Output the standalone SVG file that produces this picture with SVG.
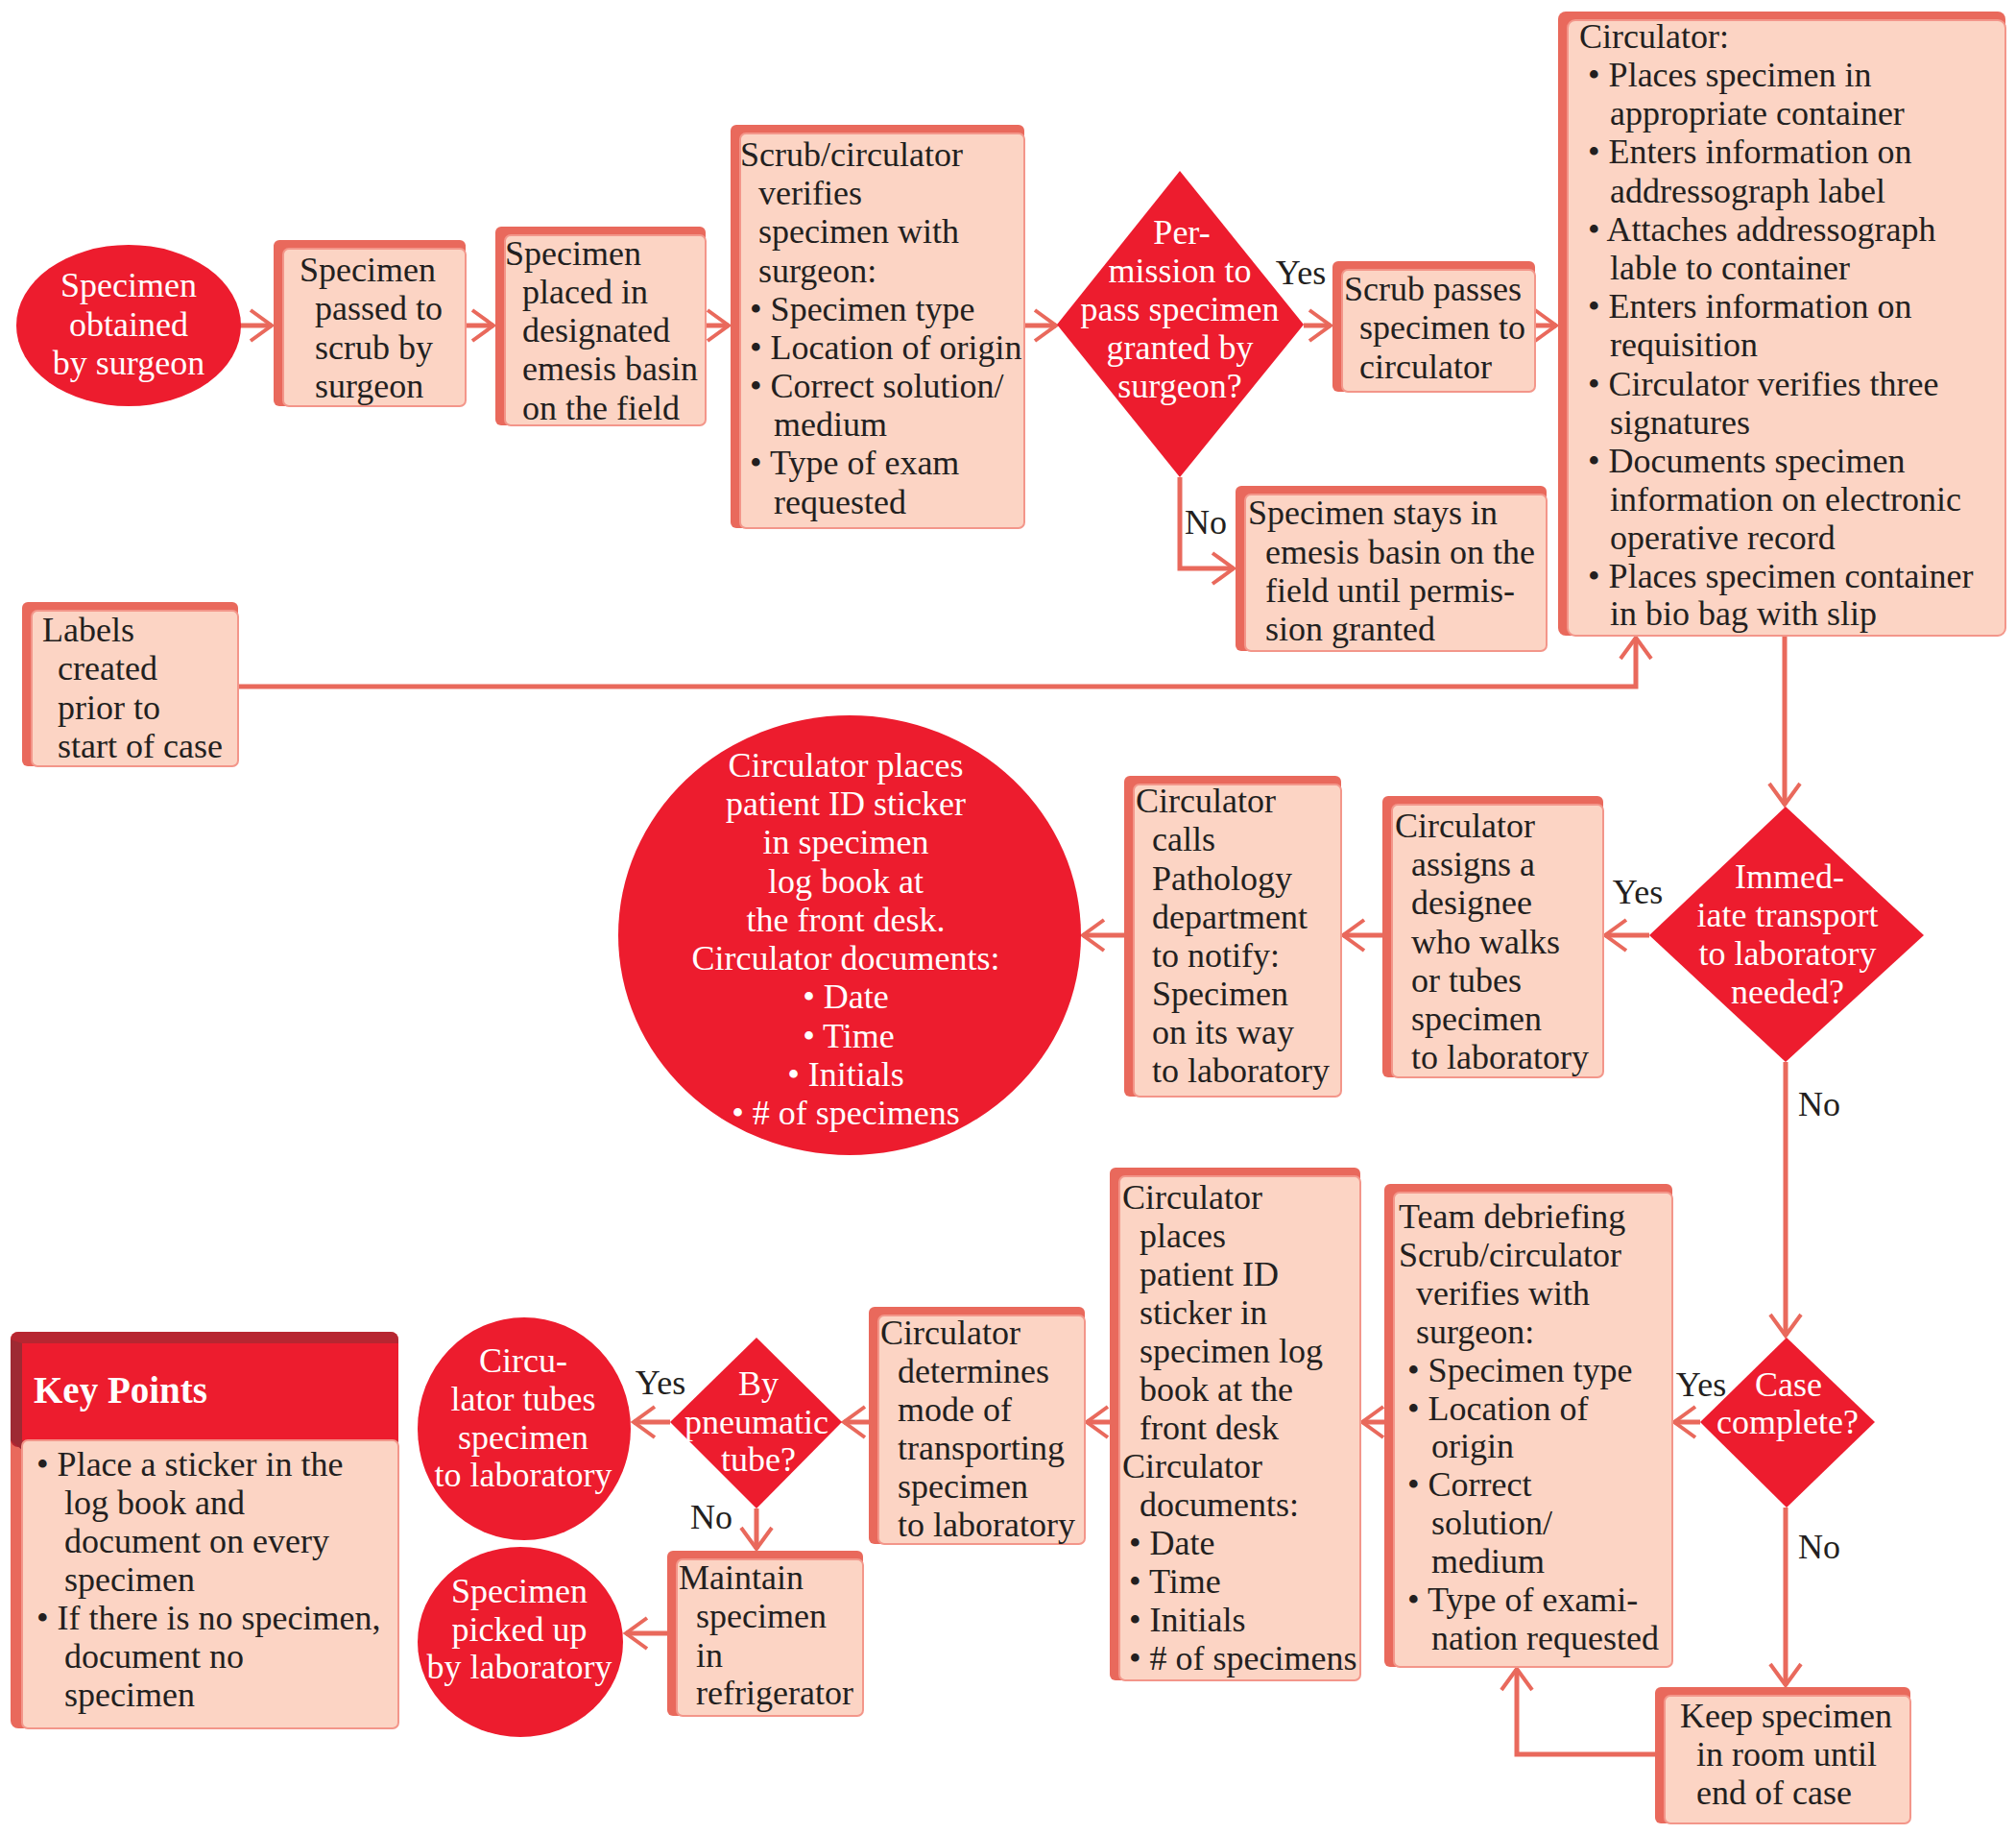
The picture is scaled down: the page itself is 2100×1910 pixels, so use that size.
<svg xmlns="http://www.w3.org/2000/svg" width="2100" height="1910" viewBox="0 0 2100 1910">
<style>
.t{font-family:"Liberation Serif","DejaVu Serif",serif;font-size:36px;fill:#231F20}
.w{fill:#FFFFFF}
.c{text-anchor:middle}
.back{fill:#E9695C}
.face{fill:#FCD4C4;stroke:#F3968A;stroke-width:2}
.red{fill:#ED1C2E}
.conn{stroke:#E9695C;stroke-width:5;fill:none}
</style>
<defs>
<marker id="ah" markerUnits="userSpaceOnUse" markerWidth="40" markerHeight="40" viewBox="-26 -20 30 40" refX="0" refY="0" orient="auto">
<path d="M-22,-16 L0,0 L-22,16" fill="none" stroke="#E9695C" stroke-width="4"/>
</marker>
</defs>
<rect width="2100" height="1910" fill="#FFFFFF"/>

<g id="connectors">
<path class="conn" d="M250,339 H283" marker-end="url(#ah)"/>
<path class="conn" d="M485,339 H514" marker-end="url(#ah)"/>
<path class="conn" d="M735,339 H759" marker-end="url(#ah)"/>
<path class="conn" d="M1067,339 H1100" marker-end="url(#ah)"/>
<path class="conn" d="M1358,339 H1386" marker-end="url(#ah)"/>
<path class="conn" d="M1599,339 H1621" marker-end="url(#ah)"/>
<path class="conn" d="M1229,497 V592 H1285" marker-end="url(#ah)"/>
<path class="conn" d="M248,715 H1704 V664" marker-end="url(#ah)"/>
<path class="conn" d="M1859,662 V838" marker-end="url(#ah)"/>
<path class="conn" d="M1718,974 H1672" marker-end="url(#ah)"/>
<path class="conn" d="M1440,974 H1399" marker-end="url(#ah)"/>
<path class="conn" d="M1171,974 H1128" marker-end="url(#ah)"/>
<path class="conn" d="M1860,1106 V1391" marker-end="url(#ah)"/>
<path class="conn" d="M1771,1481 H1744" marker-end="url(#ah)"/>
<path class="conn" d="M1442,1481 H1419" marker-end="url(#ah)"/>
<path class="conn" d="M1156,1481 H1132" marker-end="url(#ah)"/>
<path class="conn" d="M905,1481 H879" marker-end="url(#ah)"/>
<path class="conn" d="M698,1481 H660" marker-end="url(#ah)"/>
<path class="conn" d="M788,1571 V1613" marker-end="url(#ah)"/>
<path class="conn" d="M695,1701 H652" marker-end="url(#ah)"/>
<path class="conn" d="M1860,1570 V1755" marker-end="url(#ah)"/>
<path class="conn" d="M1724,1827 H1580 V1738" marker-end="url(#ah)"/>
</g>

<g id="n1">
<ellipse class="red" cx="134" cy="339" rx="117" ry="84"/>
<text class="t w c" x="134" y="309">Specimen</text>
<text class="t w c" x="134" y="350">obtained</text>
<text class="t w c" x="134" y="390">by surgeon</text>
</g>

<g id="n2">
<rect class="back" x="285" y="250" width="200" height="173" rx="6"/>
<rect class="face" x="295" y="259" width="190" height="164" rx="6"/>
<text class="t" x="312" y="293">Specimen</text>
<text class="t" x="328" y="333">passed to</text>
<text class="t" x="328" y="374">scrub by</text>
<text class="t" x="328" y="414">surgeon</text>
</g>

<g id="n3">
<rect class="back" x="516" y="236" width="219" height="207" rx="6"/>
<rect class="face" x="526" y="245" width="209" height="198" rx="6"/>
<text class="t" x="526" y="276">Specimen</text>
<text class="t" x="544" y="316">placed in</text>
<text class="t" x="544" y="356">designated</text>
<text class="t" x="544" y="396">emesis basin</text>
<text class="t" x="544" y="437">on the field</text>
</g>

<g id="n4">
<rect class="back" x="761" y="130" width="306" height="420" rx="6"/>
<rect class="face" x="771" y="139" width="296" height="411" rx="6"/>
<text class="t" x="771" y="173">Scrub/circulator</text>
<text class="t" x="790" y="213">verifies</text>
<text class="t" x="790" y="253">specimen with</text>
<text class="t" x="790" y="294">surgeon:</text>
<text class="t" x="781" y="334">• Specimen type</text>
<text class="t" x="781" y="374">• Location of origin</text>
<text class="t" x="781" y="414">• Correct solution/</text>
<text class="t" x="806" y="454">medium</text>
<text class="t" x="781" y="494">• Type of exam</text>
<text class="t" x="806" y="535">requested</text>
</g>

<g id="n5">
<polygon class="red" points="1229,178 1358,338 1229,497 1101,338"/>
<text class="t w c" x="1231" y="254">Per-</text>
<text class="t w c" x="1229" y="294">mission to</text>
<text class="t w c" x="1229" y="334">pass specimen</text>
<text class="t w c" x="1229" y="374">granted by</text>
<text class="t w c" x="1229" y="414">surgeon?</text>
</g>
<text class="t c" x="1355" y="296">Yes</text>
<text class="t c" x="1256" y="556">No</text>

<g id="n6">
<rect class="back" x="1388" y="272" width="211" height="136" rx="6"/>
<rect class="face" x="1398" y="281" width="201" height="127" rx="6"/>
<text class="t" x="1400" y="313">Scrub passes</text>
<text class="t" x="1416" y="353">specimen to</text>
<text class="t" x="1416" y="394">circulator</text>
</g>

<g id="n7">
<rect class="back" x="1287" y="506" width="324" height="172" rx="6"/>
<rect class="face" x="1297" y="515" width="314" height="163" rx="6"/>
<text class="t" x="1300" y="546">Specimen stays in</text>
<text class="t" x="1318" y="587">emesis basin on the</text>
<text class="t" x="1318" y="627">field until permis-</text>
<text class="t" x="1318" y="667">sion granted</text>
</g>

<g id="n8">
<rect class="back" x="1623" y="12" width="466" height="650" rx="8"/>
<rect class="face" x="1633" y="21" width="456" height="641" rx="8"/>
<text class="t" x="1645" y="50">Circulator:</text>
<text class="t" x="1654" y="90">• Places specimen in</text>
<text class="t" x="1677" y="130">appropriate container</text>
<text class="t" x="1654" y="170">• Enters information on</text>
<text class="t" x="1677" y="211">addressograph label</text>
<text class="t" x="1654" y="251">• Attaches addressograph</text>
<text class="t" x="1677" y="291">lable to container</text>
<text class="t" x="1654" y="331">• Enters information on</text>
<text class="t" x="1677" y="371">requisition</text>
<text class="t" x="1654" y="412">• Circulator verifies three</text>
<text class="t" x="1677" y="452">signatures</text>
<text class="t" x="1654" y="492">• Documents specimen</text>
<text class="t" x="1677" y="532">information on electronic</text>
<text class="t" x="1677" y="572">operative record</text>
<text class="t" x="1654" y="612">• Places specimen container</text>
<text class="t" x="1677" y="651">in bio bag with slip</text>
</g>

<g id="n9">
<rect class="back" x="23" y="627" width="225" height="171" rx="6"/>
<rect class="face" x="33" y="636" width="215" height="162" rx="6"/>
<text class="t" x="44" y="668">Labels</text>
<text class="t" x="60" y="708">created</text>
<text class="t" x="60" y="749">prior to</text>
<text class="t" x="60" y="789">start of case</text>
</g>

<g id="n11">
<polygon class="red" points="1860,840 2004,974 1860,1106 1718,974"/>
<text class="t w c" x="1864" y="925">Immed-</text>
<text class="t w c" x="1862" y="965">iate transport</text>
<text class="t w c" x="1862" y="1005">to laboratory</text>
<text class="t w c" x="1862" y="1045">needed?</text>
</g>
<text class="t c" x="1706" y="941">Yes</text>
<text class="t c" x="1895" y="1162">No</text>

<g id="n12">
<rect class="back" x="1440" y="829" width="230" height="293" rx="6"/>
<rect class="face" x="1450" y="838" width="220" height="284" rx="6"/>
<text class="t" x="1453" y="872">Circulator</text>
<text class="t" x="1470" y="912">assigns a</text>
<text class="t" x="1470" y="952">designee</text>
<text class="t" x="1470" y="993">who walks</text>
<text class="t" x="1470" y="1033">or tubes</text>
<text class="t" x="1470" y="1073">specimen</text>
<text class="t" x="1470" y="1113">to laboratory</text>
</g>

<g id="n13">
<rect class="back" x="1171" y="808" width="226" height="334" rx="6"/>
<rect class="face" x="1181" y="817" width="216" height="325" rx="6"/>
<text class="t" x="1183" y="846">Circulator</text>
<text class="t" x="1200" y="886">calls</text>
<text class="t" x="1200" y="927">Pathology</text>
<text class="t" x="1200" y="967">department</text>
<text class="t" x="1200" y="1007">to notify:</text>
<text class="t" x="1200" y="1047">Specimen</text>
<text class="t" x="1200" y="1087">on its way</text>
<text class="t" x="1200" y="1127">to laboratory</text>
</g>

<g id="n14">
<ellipse class="red" cx="885" cy="974" rx="241" ry="229"/>
<text class="t w c" x="881" y="809">Circulator places</text>
<text class="t w c" x="881" y="849">patient ID sticker</text>
<text class="t w c" x="881" y="889">in specimen</text>
<text class="t w c" x="881" y="930">log book at</text>
<text class="t w c" x="881" y="970">the front desk.</text>
<text class="t w c" x="881" y="1010">Circulator documents:</text>
<text class="t w c" x="881" y="1050">• Date</text>
<text class="t w c" x="884" y="1091">• Time</text>
<text class="t w c" x="881" y="1131">• Initials</text>
<text class="t w c" x="881" y="1171">• # of specimens</text>
</g>

<g id="n15">
<polygon class="red" points="1861,1393 1953,1481 1861,1570 1771,1481"/>
<text class="t w c" x="1863" y="1454">Case</text>
<text class="t w c" x="1862" y="1493">complete?</text>
</g>
<text class="t c" x="1772" y="1454">Yes</text>
<text class="t c" x="1895" y="1623">No</text>

<g id="n16">
<rect class="back" x="1724" y="1757" width="266" height="142" rx="6"/>
<rect class="face" x="1734" y="1766" width="256" height="133" rx="6"/>
<text class="t" x="1750" y="1799">Keep specimen</text>
<text class="t" x="1767" y="1839">in room until</text>
<text class="t" x="1767" y="1879">end of case</text>
</g>

<g id="n17">
<rect class="back" x="1442" y="1233" width="300" height="503" rx="6"/>
<rect class="face" x="1452" y="1242" width="290" height="494" rx="6"/>
<text class="t" x="1457" y="1279">Team debriefing</text>
<text class="t" x="1457" y="1319">Scrub/circulator</text>
<text class="t" x="1475" y="1359">verifies with</text>
<text class="t" x="1475" y="1399">surgeon:</text>
<text class="t" x="1466" y="1439">• Specimen type</text>
<text class="t" x="1466" y="1479">• Location of</text>
<text class="t" x="1491" y="1518">origin</text>
<text class="t" x="1466" y="1558">• Correct</text>
<text class="t" x="1491" y="1598">solution/</text>
<text class="t" x="1491" y="1638">medium</text>
<text class="t" x="1466" y="1678">• Type of exami-</text>
<text class="t" x="1491" y="1718">nation requested</text>
</g>

<g id="n18">
<rect class="back" x="1156" y="1216" width="261" height="534" rx="6"/>
<rect class="face" x="1166" y="1225" width="251" height="525" rx="6"/>
<text class="t" x="1169" y="1259">Circulator</text>
<text class="t" x="1187" y="1299">places</text>
<text class="t" x="1187" y="1339">patient ID</text>
<text class="t" x="1187" y="1379">sticker in</text>
<text class="t" x="1187" y="1419">specimen log</text>
<text class="t" x="1187" y="1459">book at the</text>
<text class="t" x="1187" y="1499">front desk</text>
<text class="t" x="1169" y="1539">Circulator</text>
<text class="t" x="1187" y="1579">documents:</text>
<text class="t" x="1176" y="1619">• Date</text>
<text class="t" x="1176" y="1659">• Time</text>
<text class="t" x="1176" y="1699">• Initials</text>
<text class="t" x="1176" y="1739">• # of specimens</text>
</g>

<g id="n19">
<rect class="back" x="905" y="1361" width="225" height="247" rx="6"/>
<rect class="face" x="915" y="1370" width="215" height="238" rx="6"/>
<text class="t" x="917" y="1400">Circulator</text>
<text class="t" x="935" y="1440">determines</text>
<text class="t" x="935" y="1480">mode of</text>
<text class="t" x="935" y="1520">transporting</text>
<text class="t" x="935" y="1560">specimen</text>
<text class="t" x="935" y="1600">to laboratory</text>
</g>

<g id="n20">
<polygon class="red" points="788,1393 877,1481 788,1571 698,1481"/>
<text class="t w c" x="790" y="1453">By</text>
<text class="t w c" x="788" y="1493">pneumatic</text>
<text class="t w c" x="790" y="1532">tube?</text>
</g>
<text class="t c" x="688" y="1452">Yes</text>
<text class="t c" x="741" y="1592">No</text>

<g id="n21">
<ellipse class="red" cx="546" cy="1488" rx="111" ry="116"/>
<text class="t w c" x="545" y="1429">Circu-</text>
<text class="t w c" x="545" y="1469">lator tubes</text>
<text class="t w c" x="545" y="1509">specimen</text>
<text class="t w c" x="545" y="1548">to laboratory</text>
</g>

<g id="n22">
<rect class="back" x="695" y="1615" width="204" height="172" rx="6"/>
<rect class="face" x="705" y="1624" width="194" height="163" rx="6"/>
<text class="t" x="707" y="1655">Maintain</text>
<text class="t" x="725" y="1695">specimen</text>
<text class="t" x="725" y="1736">in</text>
<text class="t" x="725" y="1775">refrigerator</text>
</g>

<g id="n23">
<ellipse class="red" cx="542" cy="1710" rx="107" ry="99"/>
<text class="t w c" x="541" y="1669">Specimen</text>
<text class="t w c" x="541" y="1709">picked up</text>
<text class="t w c" x="541" y="1748">by laboratory</text>
</g>

<g id="n24">
<rect x="11" y="1387" width="404" height="413" rx="8" fill="#E9695C"/>
<rect x="11" y="1387" width="404" height="120" rx="8" fill="#B72631"/>
<polygon points="11,1395 23,1399 23,1510 11,1500" fill="#9E2A33"/>
<rect x="23" y="1399" width="392" height="101" fill="#ED1C2E"/>
<rect x="23" y="1500" width="392" height="300" rx="6" fill="#FCD4C4" stroke="#F3968A" stroke-width="2"/>
<text x="35" y="1461" style="font-family:'Liberation Serif','DejaVu Serif',serif;font-size:39px;font-weight:bold;fill:#FFFFFF">Key Points</text>
<text class="t" x="38" y="1537">• Place a sticker in the</text>
<text class="t" x="67" y="1577">log book and</text>
<text class="t" x="67" y="1617">document on every</text>
<text class="t" x="67" y="1657">specimen</text>
<text class="t" x="38" y="1697">• If there is no specimen,</text>
<text class="t" x="67" y="1737">document no</text>
<text class="t" x="67" y="1777">specimen</text>
</g>
</svg>
